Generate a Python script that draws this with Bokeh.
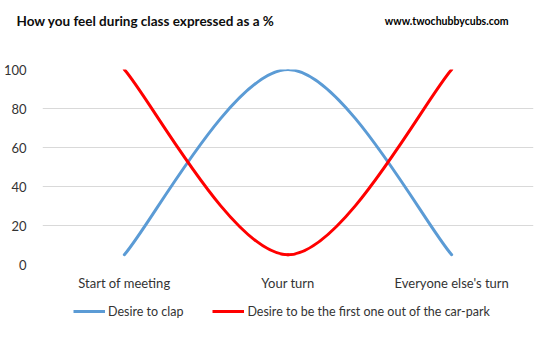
from bokeh.plotting import figure
from bokeh.layouts import column
from bokeh.models import FixedTicker, Legend, LegendItem, Title, Range1d, ColumnDataSource
from bokeh.embed import file_html
from bokeh.resources import INLINE

categories = ["Start of meeting", "Your turn", "Everyone else's turn"]
clap = [5, 100, 5]
carpark = [100, 5, 100]
series_names = ["Desire to clap", "Desire to be the first one out of the car-park"]
series_colors = ["#5B9BD5", "#FF0000"]
y_ticks = [0, 20, 40, 60, 80, 100]
title_text = "How you feel during class expressed as a %"
site_text = "www.twochubbycubs.com"

FONT = "Lato"
TEXT_COL = "#333333"
W = 549
H_HEAD, H_MAIN, H_LEG = 40, 260, 48
BL, BR = 40, 16  # left / right borders shared by all rows


def smooth_segments(ys):
    """Excel-style smoothed line: cubic Bezier control points through the data."""
    n = len(ys)
    xs = list(range(n))
    d = dict(x0=[], y0=[], x1=[], y1=[], cx0=[], cy0=[], cx1=[], cy1=[])
    for i in range(n - 1):
        ip = max(i - 1, 0)
        inx = min(i + 2, n - 1)
        d["x0"].append(xs[i]); d["y0"].append(ys[i])
        d["x1"].append(xs[i + 1]); d["y1"].append(ys[i + 1])
        d["cx0"].append(xs[i] + (xs[i + 1] - xs[ip]) / 6)
        d["cy0"].append(ys[i] + (ys[i + 1] - ys[ip]) / 6)
        d["cx1"].append(xs[i + 1] - (xs[inx] - xs[i]) / 6)
        d["cy1"].append(ys[i + 1] - (ys[inx] - ys[i]) / 6)
    return ColumnDataSource(d)


def bare_figure(height, top=0):
    f = figure(width=W, height=height, output_backend="svg", toolbar_location=None,
               x_range=Range1d(0, 1), y_range=Range1d(0, 1),
               x_axis_type=None, y_axis_type=None,
               min_border_left=BL, min_border_right=BR, min_border_top=top, min_border_bottom=0)
    f.outline_line_color = None
    f.grid.visible = False
    f.background_fill_color = "white"
    f.border_fill_color = "white"
    return f


# ---- header: title + site name, both centred on the same line ----
head = bare_figure(H_HEAD, top=20)
head.title.text = title_text
head.title.align = "left"
head.title.offset = -26
head.title.vertical_align = "middle"
head.title.standoff = -18.2
head.title.text_font = FONT
head.title.text_font_style = "bold"
head.title.text_font_size = "13.5px"
head.title.text_color = "#0d0d0d"
head.add_layout(Title(text=site_text, align="right", offset=25, vertical_align="middle",
                      standoff=-14.6, text_font=FONT, text_font_style="bold",
                      text_font_size="10.5px", text_color="#000000"), "above")

# ---- main chart ----
p = figure(width=W, height=H_MAIN, output_backend="svg", toolbar_location=None,
           x_range=Range1d(-0.5, len(categories) - 0.5), y_range=Range1d(0, 100),
           min_border_left=BL, min_border_right=BR, min_border_top=29, min_border_bottom=36)
p.outline_line_color = None
p.background_fill_color = "white"
p.border_fill_color = "white"

for ys, col in zip([clap, carpark], series_colors):
    src = smooth_segments(ys)
    p.bezier(x0="x0", y0="y0", x1="x1", y1="y1", cx0="cx0", cy0="cy0", cx1="cx1", cy1="cy1",
             source=src, line_color=col, line_width=3, line_cap="round")

p.xaxis.ticker = FixedTicker(ticks=list(range(len(categories))))
p.xaxis.major_label_overrides = {i: c for i, c in enumerate(categories)}
p.yaxis.ticker = FixedTicker(ticks=y_ticks)
for ax in (p.xaxis[0], p.yaxis[0]):
    ax.axis_line_color = None
    ax.major_tick_line_color = None
    ax.minor_tick_line_color = None
    ax.major_label_text_font = FONT
    ax.major_label_text_font_size = "13px"
    ax.major_label_text_color = TEXT_COL
p.xaxis.major_label_standoff = 4
p.yaxis.major_label_standoff = 10
p.xgrid.grid_line_color = None
p.ygrid.grid_line_color = "#D9D9D9"
p.ygrid.grid_line_width = 1

# ---- legend row ----
leg = bare_figure(H_LEG)
leg_items = []
for name, col in zip(series_names, series_colors):
    r = leg.line(x=[-10, -9], y=[-10, -9], line_color=col, line_width=3)
    leg_items.append(LegendItem(label=name, renderers=[r]))
legend = Legend(items=leg_items, orientation="horizontal", location=(31, H_LEG - 21),
                label_text_font=FONT, label_text_font_size="12.5px", label_text_color=TEXT_COL,
                glyph_width=32, glyph_height=20, label_height=20, label_standoff=3, spacing=29,
                padding=0, margin=0, border_line_color=None, background_fill_alpha=0)
leg.add_layout(legend)

layout = column(head, p, leg, spacing=0)
open("out.html", "w").write(file_html(layout, INLINE))
